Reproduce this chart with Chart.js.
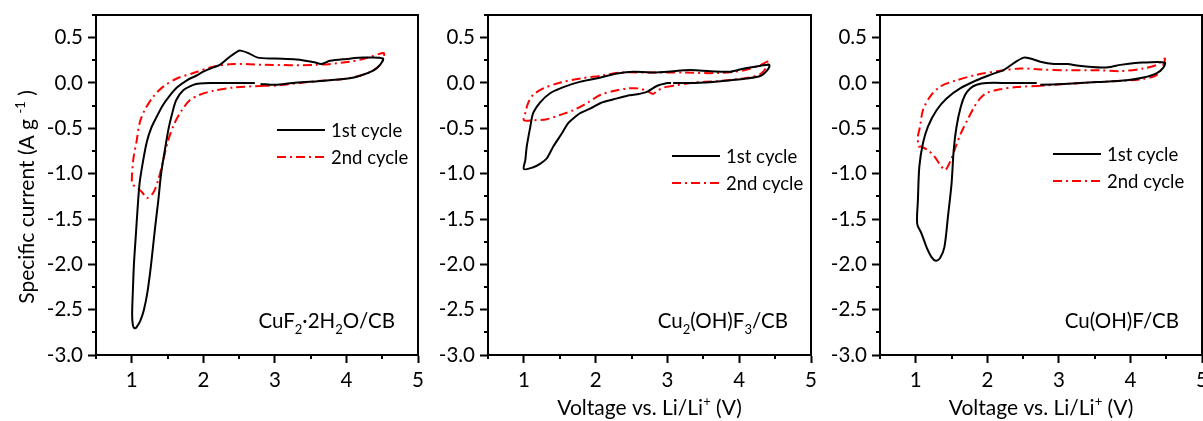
<!DOCTYPE html>
<html>
<head>
<meta charset="utf-8">
<script src="https://cdn.jsdelivr.net/npm/chart.js@4.4.0/dist/chart.umd.min.js"></script>
<style>
  html, body { margin: 0; padding: 0; background: #fff; }
  #wrap { position: relative; width: 1203px; height: 421px; overflow: hidden; background: #fff; }
  canvas { position: absolute; top: 0; }
</style>
</head>
<body>
<div id="wrap">
  <canvas id="c1" width="430" height="421" style="left:0px"></canvas>
  <canvas id="c2" width="390" height="421" style="left:430px"></canvas>
  <canvas id="c3" width="383" height="421" style="left:820px"></canvas>
</div>
<script>
// Tick labels
const xTicks = [1, 2, 3, 4, 5];
const yTicks = [0.5, 0.0, -0.5, -1.0, -1.5, -2.0, -2.5, -3.0];
const seriesNames = ['1st cycle', '2nd cycle'];

// Panel 1: CuF2·2H2O/CB  (voltage V, current A/g)
const cuf2V1 = [2.72, 2.4, 2.1, 1.95, 1.86, 1.72, 1.62, 1.56, 1.515, 1.46, 1.41, 1.37, 1.325, 1.27, 1.22, 1.17, 1.12, 1.07, 1.04, 1.015, 1.005,
                1.015, 1.03, 1.055, 1.08, 1.11, 1.16, 1.21, 1.27, 1.35, 1.43, 1.52, 1.63, 1.77, 1.9, 2.0, 2.13, 2.23, 2.37, 2.48, 2.52, 2.63, 2.76, 3.0, 3.3, 3.55, 3.65, 3.77, 4.0, 4.25, 4.51,
                4.47, 4.38, 4.19, 4.02, 3.6, 3.25, 3.0, 2.8];
const cuf2I1 = [0.0, 0.0, 0.0, -0.005, -0.02, -0.08, -0.19, -0.35, -0.5, -0.75, -1.0, -1.3, -1.6, -2.0, -2.3, -2.5, -2.62, -2.69, -2.705, -2.67, -2.55,
                -2.3, -2.0, -1.7, -1.4, -1.1, -0.85, -0.65, -0.5, -0.37, -0.25, -0.15, -0.05, 0.03, 0.08, 0.125, 0.17, 0.2, 0.29, 0.35, 0.357, 0.33, 0.28, 0.27, 0.26, 0.23, 0.21, 0.245, 0.265, 0.28, 0.27,
                0.2, 0.14, 0.08, 0.05, 0.02, 0.0, -0.02, -0.01];
const cuf2V2 = [2.85, 2.42, 2.14, 1.95, 1.81, 1.70, 1.60, 1.51, 1.44, 1.37, 1.30, 1.21, 1.15, 1.08, 1.02, 1.0,
                1.02, 1.07, 1.11, 1.18, 1.30, 1.44, 1.63, 1.86, 2.14, 2.42, 2.86, 3.58, 4.05, 4.3, 4.52,
                4.52, 4.47, 4.33, 4.02, 3.58, 3.0, 2.85];
const cuf2I2 = [-0.03, -0.05, -0.085, -0.13, -0.19, -0.30, -0.44, -0.63, -0.85, -1.07, -1.21, -1.27, -1.21, -1.16, -1.125, -1.1,
                -0.85, -0.63, -0.44, -0.30, -0.15, -0.04, 0.05, 0.11, 0.18, 0.21, 0.20, 0.2, 0.235, 0.28, 0.33,
                0.28, 0.2, 0.12, 0.05, 0.02, -0.03, -0.03];

// Panel 2: Cu2(OH)F3/CB
const cu2V1 = [3.05, 3.0, 2.86, 2.72, 2.58, 2.44, 2.25, 2.07, 1.93, 1.79, 1.72, 1.62, 1.53, 1.41, 1.32, 1.23, 1.13, 1.0,
               1.02, 1.04, 1.09, 1.13, 1.23, 1.37, 1.55, 1.79, 2.07, 2.3, 2.53, 2.76, 3.0, 3.32, 3.6, 3.88, 4.07, 4.3, 4.42,
               4.40, 4.3, 4.1, 3.74, 3.37, 3.08];
const cu2I1 = [0.0, 0.0, -0.03, -0.095, -0.125, -0.14, -0.18, -0.22, -0.28, -0.33, -0.37, -0.44, -0.555, -0.70, -0.83, -0.89, -0.93, -0.95,
               -0.85, -0.70, -0.48, -0.33, -0.21, -0.11, -0.045, 0.015, 0.06, 0.105, 0.125, 0.115, 0.125, 0.143, 0.13, 0.125, 0.16, 0.19, 0.2,
               0.15, 0.08, 0.05, 0.02, 0.0, 0.0];
const cu2V2 = [3.08, 2.95, 2.85, 2.8, 2.72, 2.6, 2.45, 2.3, 2.07, 1.88, 1.69, 1.51, 1.32, 1.13, 1.0,
               1.02, 1.06, 1.13, 1.27, 1.51, 1.79, 2.07, 2.35, 2.76, 3.23, 3.69, 4.07, 4.3, 4.42,
               4.4, 4.3, 4.1, 3.69, 3.37, 3.08];
const cu2I2 = [-0.03, -0.05, -0.09, -0.12, -0.09, -0.06, -0.06, -0.08, -0.13, -0.22, -0.30, -0.35, -0.40, -0.41, -0.41,
               -0.33, -0.22, -0.13, -0.06, 0.005, 0.05, 0.08, 0.115, 0.115, 0.115, 0.11, 0.14, 0.2, 0.245,
               0.2, 0.1, 0.055, 0.02, 0.005, -0.03];

// Panel 3: Cu(OH)F/CB
const cuohV1 = [2.69, 2.3, 1.99, 1.85, 1.76, 1.69, 1.63, 1.57, 1.53, 1.50, 1.45, 1.40, 1.34, 1.28, 1.22, 1.15, 1.08, 1.02,
                1.03, 1.05, 1.10, 1.17, 1.29, 1.43, 1.62, 1.85, 2.04, 2.23, 2.37, 2.51, 2.6, 2.74, 2.93, 3.12, 3.28, 3.6, 3.74, 3.86, 4.17, 4.48,
                4.46, 4.37, 4.18, 3.95, 3.53, 3.07, 2.74];
const cuohI1 = [0.0, 0.0, 0.0, -0.02, -0.06, -0.13, -0.26, -0.48, -0.74, -1.11, -1.47, -1.81, -1.93, -1.96, -1.92, -1.81, -1.66, -1.555,
                -1.29, -0.92, -0.665, -0.48, -0.30, -0.17, -0.06, 0.03, 0.09, 0.145, 0.22, 0.28, 0.27, 0.235, 0.21, 0.21, 0.19, 0.17, 0.18, 0.2, 0.225, 0.225,
                0.17, 0.11, 0.06, 0.03, 0.01, -0.01, -0.02];
const cuohV2 = [2.74, 2.41, 2.18, 1.99, 1.9, 1.82, 1.72, 1.63, 1.56, 1.49, 1.41, 1.33, 1.26, 1.17, 1.07, 1.04,
                1.03, 1.06, 1.10, 1.20, 1.34, 1.57, 1.85, 2.18, 2.46, 2.74, 3.12, 3.58, 3.86, 4.18, 4.37, 4.48,
                4.46, 4.37, 4.18, 3.77, 3.3, 2.74];
const cuohI2 = [-0.03, -0.045, -0.07, -0.11, -0.17, -0.26, -0.41, -0.555, -0.70, -0.85, -0.96, -0.89, -0.81, -0.74, -0.70, -0.70,
                -0.59, -0.48, -0.30, -0.15, -0.04, 0.03, 0.09, 0.135, 0.16, 0.15, 0.14, 0.14, 0.13, 0.16, 0.2, 0.27,
                0.2, 0.09, 0.045, 0.02, 0.0, -0.03];

// Texts (with sub/superscripts)
const label1 = [['CuF', 'n'], ['2', 'sub'], ['\u00b72H', 'n'], ['2', 'sub'], ['O/CB', 'n']];
const label2 = [['Cu', 'n'], ['2', 'sub'], ['(OH)F', 'n'], ['3', 'sub'], ['/CB', 'n']];
const label3 = [['Cu(OH)F/CB', 'n']];
const yTitle = [['Specific current (A g ', 'n'], ['-1', 'sup'], [' )', 'n']];
const xTitle = [['Voltage vs. Li/Li', 'n'], ['+', 'sup'], [' (V)', 'n']];

const FONT = 'Lato, "Open Sans", sans-serif';

function pts(xs, ys) {
    return xs.map((x, i) => ({ x: x, y: ys[i] }));
}

function near(a, b) { return Math.abs(a - b) < 1e-6; }
function isXMajor(v) { return xTicks.some(t => near(t, v)); }
function isYMajor(v) { return yTicks.some(t => near(t, v)); }

function partFont(p, size) {
    const s = p[1] === 'n' ? size : Math.round(size * 0.62);
    return s + 'px ' + FONT;
}

function drawRich(ctx, parts, x, y, size, align) {
    let w = 0;
    parts.forEach(p => { ctx.font = partFont(p, size); w += ctx.measureText(p[0]).width; });
    let cx = align === 'right' ? x - w : (align === 'center' ? x - w / 2 : x);
    ctx.textAlign = 'left';
    ctx.textBaseline = 'alphabetic';
    parts.forEach(p => {
        ctx.font = partFont(p, size);
        const dy = p[1] === 'sub' ? size * 0.28 : (p[1] === 'sup' ? -size * 0.42 : 0);
        ctx.fillText(p[0], cx, y + dy);
        cx += ctx.measureText(p[0]).width;
    });
}

// frame, minor ticks, legend, labels
const decor = {
    id: 'decor',
    afterDraw(chart, args, opts) {
        const ctx = chart.ctx;
        const a = chart.chartArea;
        const xs = chart.scales.x, ys = chart.scales.y;
        ctx.save();
        ctx.strokeStyle = '#000';
        ctx.fillStyle = '#000';
        ctx.lineWidth = 2;

        // top and right border
        ctx.beginPath();
        ctx.moveTo(a.left, a.top);
        ctx.lineTo(a.right, a.top);
        ctx.lineTo(a.right, a.bottom);
        ctx.stroke();

        // minor ticks
        ctx.beginPath();
        xs.ticks.forEach(t => {
            if (!isXMajor(t.value)) {
                const px = Math.round(xs.getPixelForValue(t.value));
                ctx.moveTo(px, a.bottom);
                ctx.lineTo(px, a.bottom + 4);
            }
        });
        ys.ticks.forEach(t => {
            if (!isYMajor(t.value)) {
                const py = Math.round(ys.getPixelForValue(t.value));
                ctx.moveTo(a.left - 4, py);
                ctx.lineTo(a.left, py);
            }
        });
        ctx.stroke();

        // legend
        const lx = a.left + opts.legendX, ly = a.top + opts.legendY;
        ctx.lineWidth = 2;
        chart.data.datasets.forEach((ds, k) => {
            const yy = ly + k * 27;
            ctx.strokeStyle = ds.borderColor;
            ctx.setLineDash(ds.borderDash || []);
            ctx.beginPath();
            ctx.moveTo(lx, yy);
            ctx.lineTo(lx + 48, yy);
            ctx.stroke();
            ctx.setLineDash([]);
            ctx.fillStyle = '#000';
            ctx.font = '18.5px ' + FONT;
            ctx.textAlign = 'left';
            ctx.textBaseline = 'middle';
            ctx.fillText(ds.label, lx + 54, yy + 1);
        });

        // sample label
        ctx.fillStyle = '#000';
        drawRich(ctx, opts.label, a.right - 23, 328, 20.5, 'right');

        if (opts.xTitle) {
            drawRich(ctx, xTitle, (a.left + a.right) / 2, 415, 21, 'center');
        }
        if (opts.yTitle) {
            ctx.save();
            ctx.translate(34, 197);
            ctx.rotate(-Math.PI / 2);
            drawRich(ctx, yTitle, 0, 0, 21, 'center');
            ctx.restore();
        }
        ctx.restore();
    }
};

function makeChart(id, v1, i1, v2, i2, p) {
    return new Chart(document.getElementById(id), {
        type: 'scatter',
        data: {
            datasets: [
                {
                    label: seriesNames[0],
                    data: pts(v1, i1),
                    showLine: true,
                    borderColor: '#000000',
                    borderWidth: 2,
                    pointRadius: 0,
                    tension: 0.3
                },
                {
                    label: seriesNames[1],
                    data: pts(v2, i2),
                    showLine: true,
                    borderColor: '#ff0000',
                    borderWidth: 2,
                    borderDash: [9, 4, 2, 4],
                    pointRadius: 0,
                    tension: 0.3
                }
            ]
        },
        options: {
            responsive: false,
            animation: false,
            layout: { padding: { top: 15, right: p.padRight, left: 0, bottom: 0 } },
            plugins: {
                legend: { display: false },
                tooltip: { enabled: false },
                decor: p
            },
            scales: {
                x: {
                    type: 'linear',
                    min: 0.5,
                    max: 5,
                    ticks: {
                        stepSize: 0.5,
                        autoSkip: false,
                        maxRotation: 0,
                        padding: 5,
                        color: '#000',
                        font: { family: FONT, size: 20.5 },
                        callback: v => isXMajor(v) ? String(Math.round(v)) : ''
                    },
                    grid: {
                        drawOnChartArea: false,
                        tickLength: 8,
                        tickWidth: 2,
                        tickColor: c => isXMajor(c.tick.value) ? '#000' : 'rgba(0,0,0,0)'
                    },
                    border: { color: '#000', width: 2 },
                    afterFit: s => { s.height = 66; s.paddingLeft = 0; s.paddingRight = 0; }
                },
                y: {
                    type: 'linear',
                    min: -3,
                    max: 0.75,
                    ticks: {
                        stepSize: 0.25,
                        autoSkip: false,
                        padding: 5,
                        color: '#000',
                        font: { family: FONT, size: 20.5 },
                        callback: v => isYMajor(v) ? v.toFixed(1) : ''
                    },
                    grid: {
                        drawOnChartArea: false,
                        tickLength: 8,
                        tickWidth: 2,
                        tickColor: c => isYMajor(c.tick.value) ? '#000' : 'rgba(0,0,0,0)'
                    },
                    border: { color: '#000', width: 2 },
                    afterFit: s => { s.width = p.yWidth; s.paddingTop = 0; s.paddingBottom = 0; }
                }
            }
        },
        plugins: [decor]
    });
}

makeChart('c1', cuf2V1, cuf2I1, cuf2V2, cuf2I2,
    { yWidth: 96, padRight: 12, legendX: 181, legendY: 115, label: label1, yTitle: true, xTitle: false });
makeChart('c2', cu2V1, cu2I1, cu2V2, cu2I2,
    { yWidth: 58, padRight: 9, legendX: 184, legendY: 141, label: label2, yTitle: false, xTitle: true });
makeChart('c3', cuohV1, cuohI1, cuohV2, cuohI2,
    { yWidth: 60, padRight: 1, legendX: 173, legendY: 139, label: label3, yTitle: false, xTitle: true });
</script>
</body>
</html>
